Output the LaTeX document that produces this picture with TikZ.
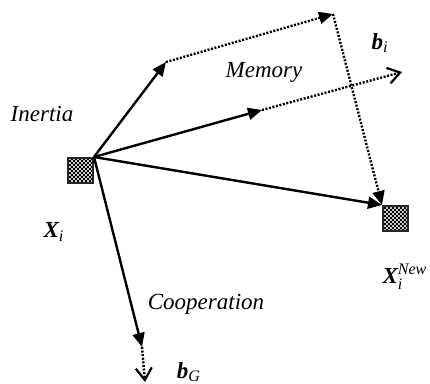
\documentclass[tikz,border=0pt]{standalone}
\usepackage{amsmath}
\usepackage{fontspec}
\setmainfont{Liberation Serif}
\usetikzlibrary{arrows.meta,patterns}
\pgfdeclarepatternformonly{finechecks}{\pgfpointorigin}{\pgfqpoint{2.2pt}{2.2pt}}{\pgfqpoint{2.2pt}{2.2pt}}{
	\pgfpathrectangle{\pgfpointorigin}{\pgfqpoint{1.1pt}{1.1pt}}
	\pgfpathrectangle{\pgfqpoint{1.1pt}{1.1pt}}{\pgfqpoint{1.1pt}{1.1pt}}
	\pgfusepath{fill}}
\newcommand{\bvec}[1]{\textbf{\textit{#1}}}
\tikzset{
	cell/.style={draw=black!85,line width=0.9pt,preaction={fill=black!15},pattern=finechecks,pattern color=black,minimum size=12.5pt,inner sep=0pt},
	vec/.style={line width=1.2pt,-{Triangle[length=7pt,width=6pt]}},
	dots/.style={line width=1.2pt,dash pattern=on 1pt off 0.8pt},
	openvec/.style={dots,-{Straight Barb[length=6pt,width=8pt,line width=1.1pt]}},
	dotvec/.style={dots,-{Triangle[length=7pt,width=6pt]}},
	lbl/.style={font=\fontsize{11.5}{13}\selectfont\itshape,inner sep=0pt}
}
\begin{document}
\begin{tikzpicture}[x=0.5pt,y=-0.5pt]
					\useasboundingbox (0,0) rectangle (430,384);
					\node[cell,anchor=north east] (Xi) at (94,157) {};
					\node[cell,anchor=north west] (Xn) at (382,205) {};
					\coordinate (in) at (166,62); \coordinate (pb) at (333,14);
					\coordinate (me) at (262,110); \coordinate (bi) at (402,72);
					\coordinate (co) at (142,347); \coordinate (bg) at (145,382);
					\foreach \t in {in,me,co} \draw[vec] (Xi.north east) -- (\t);
					\draw[vec] (Xi.north east) -- (Xn.north west);
					\draw[dotvec] (in) -- (pb);
					\draw[dotvec] (pb) -- (Xn.north west);
					\draw[openvec] (me) -- (bi);
					\draw[openvec] (co) -- (bg);
					\node[lbl] (inertia) at (42,114) {Inertia};
					\node[lbl] (memory) at (264,72) {Memory};
					\node[lbl] (coop) at (206,304) {Cooperation};
					\node[lbl] (lbi) at (380,43) {\bvec{b}$_{\textit{i}}$};
					\node[lbl] (lbg) at (189,372) {\bvec{b}$_{\textit{G}}$};
					\node[lbl] (lxi) at (54,232) {\bvec{X}$_{\textit{i}}$};
					\node[lbl] (lxn) at (405,277) {\bvec{X}$_{\textit{i}}^{\textit{New}}$};
				\end{tikzpicture}
\end{document}
